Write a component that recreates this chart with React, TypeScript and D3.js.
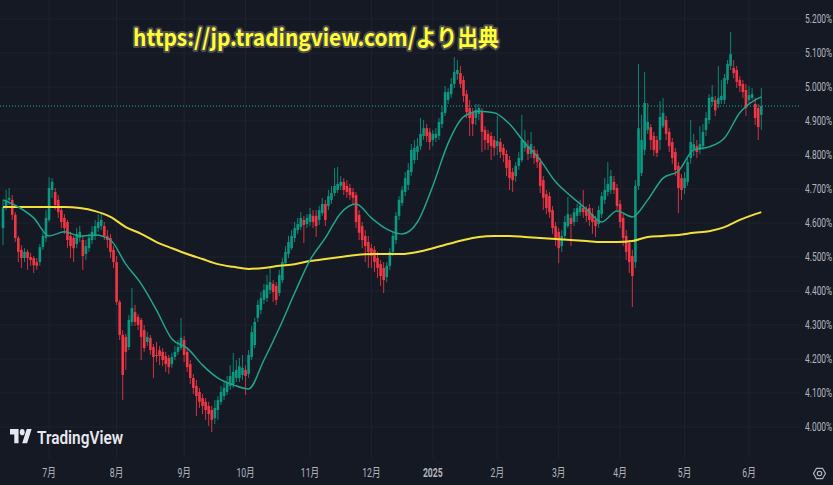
import React from 'react';
import * as d3 from 'd3';

const WIDTH = 833;
const HEIGHT = 485;

// Daily candles (yield, %), mid-June 2024 → early June 2025
const opens = [
  4.585,4.647,4.668,4.668,4.624,4.556,4.521,4.497,4.515,4.500,
  4.497,4.485,4.485,4.529,4.556,4.609,4.697,4.691,4.668,4.638,
  4.615,4.603,4.562,4.556,4.538,4.556,4.550,4.509,4.526,4.550,
  4.562,4.585,4.591,4.591,4.562,4.556,4.521,4.485,4.368,4.271,
  4.265,4.235,4.309,4.338,4.324,4.315,4.285,4.250,4.262,4.235,
  4.212,4.226,4.221,4.209,4.203,4.185,4.206,4.221,4.232,4.256,
  4.221,4.185,4.144,4.121,4.103,4.085,4.074,4.062,4.050,4.026,
  4.050,4.074,4.091,4.103,4.121,4.126,4.144,4.144,4.153,4.168,
  4.156,4.206,4.241,4.321,4.344,4.374,4.379,4.403,4.421,4.415,
  4.394,4.432,4.482,4.509,4.526,4.556,4.579,4.588,4.609,4.597,
  4.603,4.621,4.621,4.609,4.629,4.656,4.650,4.668,4.688,4.697,
  4.709,4.721,4.709,4.703,4.691,4.682,4.624,4.591,4.562,4.544,
  4.526,4.521,4.497,4.479,4.468,4.441,4.474,4.515,4.550,4.621,
  4.659,4.691,4.712,4.750,4.785,4.809,4.826,4.856,4.879,4.868,
  4.844,4.850,4.856,4.891,4.924,4.962,4.979,5.009,5.038,5.041,
  5.021,4.979,4.938,4.926,4.909,4.921,4.926,4.874,4.862,4.856,
  4.844,4.826,4.838,4.821,4.803,4.785,4.750,4.738,4.768,4.785,
  4.821,4.826,4.803,4.815,4.803,4.779,4.726,4.685,4.679,4.638,
  4.591,4.574,4.532,4.562,4.591,4.615,4.603,4.621,4.632,4.644,
  4.638,4.644,4.626,4.609,4.597,4.626,4.668,4.691,4.697,4.721,
  4.703,4.656,4.615,4.562,4.541,4.503,4.485,4.709,4.747,4.815,
  4.874,4.882,4.856,4.844,4.844,4.885,4.903,4.868,4.838,4.809,
  4.768,4.732,4.703,4.721,4.791,4.815,4.826,4.815,4.826,4.874,
  4.903,4.956,4.962,4.950,4.962,4.962,5.021,5.062,5.056,5.050,
  5.021,5.009,4.991,4.962,4.968,4.950,4.938,4.918,
];
const highs = [
  4.668,4.697,4.703,4.682,4.632,4.562,4.535,4.526,4.521,4.512,
  4.503,4.497,4.538,4.574,4.638,4.735,4.732,4.703,4.682,4.647,
  4.626,4.609,4.574,4.562,4.585,4.591,4.562,4.550,4.568,4.591,
  4.609,4.626,4.632,4.603,4.579,4.568,4.532,4.503,4.374,4.285,
  4.274,4.329,4.409,4.359,4.332,4.321,4.300,4.279,4.271,4.244,
  4.250,4.238,4.232,4.221,4.212,4.218,4.238,4.256,4.321,4.268,
  4.232,4.197,4.156,4.138,4.115,4.097,4.085,4.074,4.062,4.079,
  4.091,4.121,4.132,4.150,4.182,4.218,4.197,4.203,4.212,4.182,
  4.226,4.297,4.321,4.374,4.397,4.421,4.447,4.471,4.432,4.426,
  4.462,4.497,4.532,4.562,4.579,4.603,4.615,4.632,4.621,4.626,
  4.644,4.638,4.638,4.650,4.674,4.668,4.697,4.709,4.762,4.765,
  4.738,4.732,4.726,4.715,4.703,4.691,4.638,4.603,4.579,4.562,
  4.538,4.532,4.515,4.491,4.485,4.485,4.526,4.574,4.632,4.679,
  4.709,4.750,4.776,4.832,4.844,4.850,4.909,4.903,4.891,4.879,
  4.874,4.879,4.909,4.944,5.003,4.997,5.026,5.088,5.079,5.062,
  5.032,4.991,4.962,4.938,4.950,4.950,4.938,4.885,4.874,4.868,
  4.856,4.915,4.850,4.832,4.815,4.797,4.762,4.779,4.809,4.918,
  4.874,4.844,4.868,4.826,4.815,4.791,4.738,4.697,4.691,4.650,
  4.603,4.585,4.579,4.621,4.676,4.626,4.644,4.656,4.668,4.697,
  4.650,4.656,4.644,4.621,4.650,4.691,4.732,4.779,4.756,4.738,
  4.715,4.668,4.626,4.579,4.550,4.521,4.726,5.068,4.918,5.044,
  4.953,4.891,4.868,4.856,4.959,4.968,4.915,4.879,4.850,4.821,
  4.779,4.744,4.750,4.791,4.903,4.862,4.844,4.885,4.891,4.926,
  4.979,5.006,4.974,5.062,5.021,5.038,5.079,5.162,5.079,5.062,
  5.032,5.021,5.009,5.003,4.997,4.968,4.950,4.997,
];
const lows = [
  4.535,4.638,4.653,4.609,4.544,4.485,4.468,4.485,4.462,4.474,
  4.453,4.462,4.474,4.521,4.544,4.603,4.674,4.638,4.615,4.585,
  4.568,4.526,4.497,4.485,4.526,4.544,4.462,4.491,4.515,4.538,
  4.550,4.574,4.579,4.550,4.526,4.497,4.468,4.359,4.256,4.079,
  4.168,4.226,4.297,4.297,4.285,4.197,4.221,4.238,4.212,4.144,
  4.191,4.182,4.179,4.162,4.156,4.174,4.197,4.212,4.226,4.191,
  4.162,4.126,4.097,4.032,4.056,4.038,4.021,4.003,3.985,4.009,
  4.021,4.065,4.079,4.094,4.109,4.115,4.132,4.132,4.138,4.094,
  4.144,4.197,4.232,4.309,4.332,4.362,4.368,4.391,4.368,4.359,
  4.385,4.424,4.474,4.497,4.521,4.544,4.568,4.579,4.541,4.585,
  4.591,4.585,4.559,4.594,4.621,4.591,4.638,4.656,4.679,4.688,
  4.697,4.682,4.674,4.668,4.656,4.585,4.550,4.526,4.485,4.468,
  4.468,4.456,4.438,4.415,4.394,4.426,4.462,4.503,4.538,4.609,
  4.650,4.679,4.697,4.738,4.774,4.785,4.815,4.844,4.838,4.815,
  4.826,4.838,4.844,4.879,4.915,4.950,4.968,4.997,5.021,4.997,
  4.956,4.909,4.856,4.856,4.888,4.903,4.809,4.815,4.815,4.785,
  4.797,4.800,4.791,4.779,4.738,4.697,4.691,4.721,4.756,4.779,
  4.809,4.785,4.791,4.774,4.762,4.688,4.638,4.626,4.615,4.568,
  4.532,4.482,4.515,4.550,4.585,4.532,4.591,4.603,4.621,4.615,
  4.603,4.591,4.568,4.559,4.585,4.615,4.656,4.679,4.685,4.685,
  4.638,4.585,4.532,4.491,4.453,4.353,4.468,4.697,4.738,4.800,
  4.862,4.815,4.797,4.794,4.815,4.879,4.844,4.809,4.774,4.738,
  4.629,4.668,4.685,4.709,4.774,4.797,4.791,4.803,4.815,4.856,
  4.891,4.944,4.915,4.938,4.950,4.950,5.009,5.050,5.026,4.997,
  4.985,4.968,4.915,4.950,4.962,4.888,4.844,4.874,
];
const closes = [
  4.647,4.668,4.674,4.624,4.556,4.515,4.497,4.515,4.497,4.491,
  4.476,4.474,4.529,4.562,4.615,4.703,4.721,4.653,4.632,4.603,
  4.585,4.550,4.532,4.526,4.568,4.574,4.503,4.532,4.556,4.574,
  4.591,4.603,4.609,4.562,4.550,4.515,4.485,4.368,4.271,4.153,
  4.221,4.315,4.350,4.309,4.300,4.265,4.232,4.265,4.226,4.206,
  4.209,4.209,4.197,4.185,4.176,4.206,4.221,4.235,4.262,4.212,
  4.176,4.144,4.115,4.091,4.074,4.062,4.050,4.038,4.021,4.056,
  4.079,4.103,4.115,4.132,4.150,4.162,4.168,4.179,4.174,4.150,
  4.212,4.279,4.309,4.359,4.379,4.403,4.418,4.426,4.397,4.374,
  4.447,4.485,4.515,4.544,4.562,4.585,4.597,4.615,4.594,4.615,
  4.626,4.603,4.591,4.638,4.656,4.609,4.679,4.688,4.709,4.715,
  4.721,4.697,4.691,4.682,4.674,4.603,4.571,4.550,4.532,4.515,
  4.503,4.485,4.468,4.444,4.432,4.474,4.515,4.562,4.621,4.668,
  4.697,4.732,4.756,4.815,4.821,4.826,4.862,4.879,4.856,4.838,
  4.862,4.862,4.897,4.926,4.985,4.985,5.009,5.044,5.050,5.009,
  4.974,4.926,4.909,4.891,4.932,4.938,4.868,4.844,4.835,4.826,
  4.821,4.841,4.809,4.800,4.762,4.732,4.726,4.768,4.791,4.844,
  4.838,4.803,4.832,4.791,4.779,4.709,4.674,4.644,4.632,4.585,
  4.556,4.526,4.562,4.603,4.626,4.597,4.632,4.644,4.650,4.632,
  4.621,4.609,4.603,4.591,4.638,4.679,4.697,4.715,4.738,4.697,
  4.650,4.603,4.556,4.515,4.485,4.444,4.709,4.879,4.844,4.953,
  4.897,4.844,4.815,4.806,4.912,4.924,4.862,4.826,4.791,4.756,
  4.703,4.697,4.732,4.779,4.838,4.832,4.809,4.832,4.868,4.909,
  4.968,4.971,4.932,4.968,4.974,5.026,5.068,5.097,5.041,5.015,
  5.003,4.985,4.938,4.976,4.979,4.909,4.882,4.944,
];

// Short moving average (teal), read at bar indices
const maFastBars = [0,5,10,15,20,25,30,35,40,45,50,55,60,65,70,75,80,85,90,95,100,105,110,115,120,125,130,135,140,145,150,155,160,165,170,175,180,185,190,195,200,205,210,215,220,225,230,235,240,245,247];
const maFastValues = [4.668,4.647,4.615,4.562,4.574,4.562,4.565,4.550,4.479,4.421,4.344,4.259,4.232,4.182,4.144,4.124,4.112,4.197,4.291,4.394,4.491,4.556,4.629,4.656,4.615,4.582,4.568,4.603,4.709,4.835,4.912,4.929,4.924,4.891,4.835,4.785,4.721,4.679,4.641,4.603,4.635,4.618,4.668,4.732,4.753,4.815,4.824,4.850,4.924,4.962,4.971];

// Long moving average (yellow)
const maSlowBars = [0,10,20,25,30,35,40,45,50,55,60,65,70,75,80,85,90,95,100,105,110,115,120,130,135,140,145,150,155,160,165,170,175,180,185,190,195,200,205,210,215,220,225,230,235,240,245,247];
const maSlowValues = [4.647,4.647,4.647,4.644,4.635,4.618,4.588,4.568,4.544,4.526,4.509,4.494,4.479,4.471,4.465,4.468,4.474,4.479,4.488,4.494,4.500,4.506,4.509,4.509,4.515,4.526,4.538,4.550,4.559,4.562,4.562,4.559,4.556,4.553,4.550,4.547,4.544,4.544,4.547,4.559,4.562,4.565,4.571,4.576,4.588,4.609,4.626,4.632];

const monthTickBars = [15, 37, 59, 79, 100, 120, 140, 161, 181, 201, 222, 243];
const monthTickLabels = ['7月', '8月', '9月', '10月', '11月', '12月', '2025', '2月', '3月', '4月', '5月', '6月'];
const priceTicks = [4.0, 4.1, 4.2, 4.3, 4.4, 4.5, 4.6, 4.7, 4.8, 4.9, 5.0, 5.1, 5.2];
const priceTickLabels = ['4.000%', '4.100%', '4.200%', '4.300%', '4.400%', '4.500%', '4.600%', '4.700%', '4.800%', '4.900%', '5.000%', '5.100%', '5.200%'];
const lastPrice = 4.944;
const sourceText = 'https://jp.tradingview.com/より出典';
const brandText = 'TradingView';

const BG = '#151924';
const GRID = '#1f2330';
const UP = '#089981';
const DOWN = '#f23645';
const FAST = '#1fa58c';
const SLOW = '#f5e03a';
const AXIS_TEXT = '#b2b5be';

export default function App() {
  const plotRight = 800;
  const plotBottom = 458;
  const x = d3.scaleLinear().domain([0, closes.length - 1]).range([3, 761.3]);
  const y = d3.scaleLinear().domain([4.0, 5.2]).range([427, 19]);

  const fastLine = d3
    .line<number>()
    .x((_, i) => x(maFastBars[i]))
    .y((d) => y(d))
    .curve(d3.curveMonotoneX)(maFastValues) || '';
  const slowLine = d3
    .line<number>()
    .x((_, i) => x(maSlowBars[i]))
    .y((d) => y(d))
    .curve(d3.curveMonotoneX)(maSlowValues) || '';

  const bodyW = 2.6;
  const font = "Roboto, 'Noto Sans CJK JP', sans-serif";

  return (
    <svg
      width={WIDTH}
      height={HEIGHT}
      viewBox={`0 0 ${WIDTH} ${HEIGHT}`}
      style={{ position: 'absolute', left: 0, top: 0, display: 'block' }}
    >
      <rect x={0} y={0} width={WIDTH} height={HEIGHT} fill={BG} />

      {/* grid */}
      <g>
        {priceTicks.map((p, i) => (
          <line key={'hg' + i} x1={0} x2={plotRight} y1={y(p)} y2={y(p)} stroke={GRID} strokeWidth={1} />
        ))}
        {monthTickBars.map((b, i) => (
          <line key={'vg' + i} x1={x(b)} x2={x(b)} y1={0} y2={plotBottom} stroke={GRID} strokeWidth={1} />
        ))}
      </g>

      {/* candles */}
      <g>
        {closes.map((c, i) => {
          const o = opens[i];
          const up = c >= o;
          const col = up ? UP : DOWN;
          const cx = x(i);
          const top = y(Math.max(o, c));
          const bot = y(Math.min(o, c));
          return (
            <g key={'c' + i}>
              <line x1={cx} x2={cx} y1={y(highs[i])} y2={y(lows[i])} stroke={col} strokeWidth={1} strokeOpacity={0.85} />
              <rect x={cx - bodyW / 2} y={top} width={bodyW} height={Math.max(1, bot - top)} fill={col} />
            </g>
          );
        })}
      </g>

      {/* moving averages */}
      <path d={slowLine} fill="none" stroke={SLOW} strokeWidth={2} />
      <path d={fastLine} fill="none" stroke={FAST} strokeWidth={1.5} />

      {/* last price line */}
      <line x1={0} x2={plotRight} y1={y(lastPrice)} y2={y(lastPrice)} stroke="#22ab94" strokeWidth={1} strokeDasharray="1 2" />

      {/* price axis */}
      <g fontFamily={font} fontSize={12} fill={AXIS_TEXT}>
        {priceTicks.map((p, i) => (
          <text key={'pt' + i} transform={`translate(805, ${y(p)}) scale(0.7, 1)`} dy="0.36em">
            {priceTickLabels[i]}
          </text>
        ))}
      </g>

      {/* time axis */}
      <g fontFamily={font} fontSize={12} fill={AXIS_TEXT}>
        {monthTickBars.map((b, i) => (
          <text
            key={'mt' + i}
            transform={`translate(${x(b)}, 477) scale(0.72, 1)`}
            textAnchor="middle"
            fontWeight={monthTickLabels[i] === '2025' ? 700 : 400}
          >
            {monthTickLabels[i]}
          </text>
        ))}
      </g>

      {/* settings icon */}
      <g transform="translate(819.5, 473.5)" fill="none" stroke={AXIS_TEXT} strokeWidth={1.2}>
        <path d={d3.range(6).map((k) => {
          const a = (Math.PI / 3) * k;
          return `${k === 0 ? 'M' : 'L'}${(6 * Math.cos(a)).toFixed(2)},${(6 * Math.sin(a)).toFixed(2)}`;
        }).join('') + 'Z'} />
        <circle r={2.2} />
      </g>

      {/* TradingView watermark */}
      <g>
        <g transform="translate(10, 426) scale(0.61, 0.78)" fill="#e6e8ee">
          <path d="M14 22H7V11H0V4h14v18zM28 22h-8l7.5-18h8L28 22z" />
          <circle cx={20} cy={8} r={4} />
        </g>
        <text
          x={37}
          y={444}
          fontFamily={font}
          fontSize={19}
          fontWeight={600}
          fill="#e6e8ee"
          textLength={86}
          lengthAdjust="spacingAndGlyphs"
        >
          {brandText}
        </text>
      </g>

      {/* source caption */}
      <text
        x={133}
        y={46}
        fontFamily="'Noto Sans CJK JP', sans-serif"
        fontSize={23}
        fontWeight={700}
        fill="#ffff33"
        stroke="#4d4d4d"
        strokeWidth={4}
        strokeLinejoin="round"
        paintOrder="stroke"
        textLength={366}
        lengthAdjust="spacingAndGlyphs"
      >
        {sourceText}
      </text>
    </svg>
  );
}
